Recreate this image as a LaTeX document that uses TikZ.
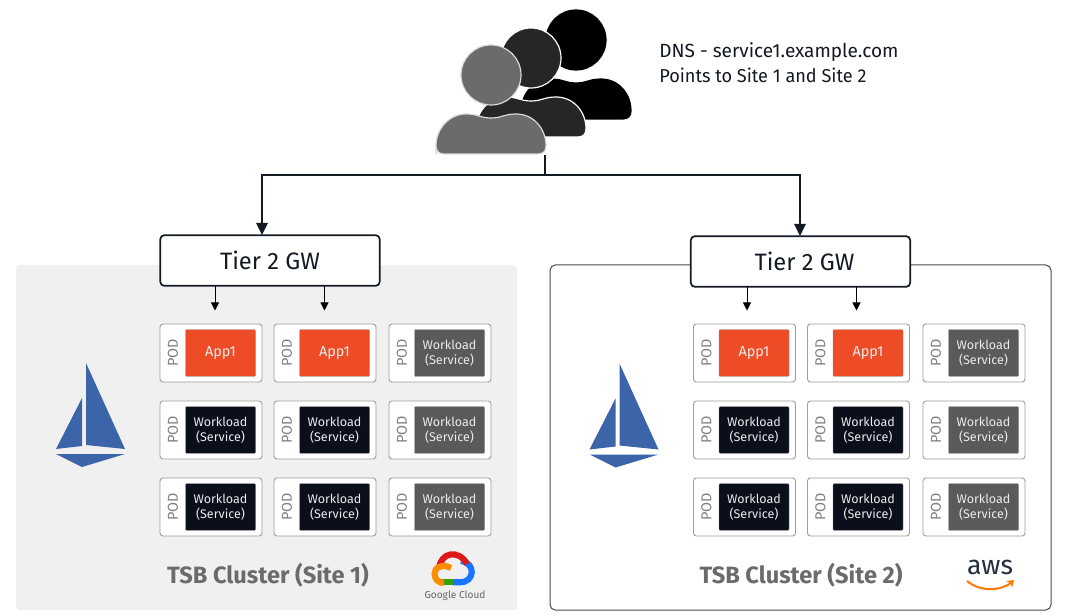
\documentclass[tikz,border=0pt]{standalone}
\usepackage{fontspec}
\setmainfont{Fira Sans}
\usetikzlibrary{arrows.meta}
\definecolor{panelgray}{HTML}{F0F0F0}
\definecolor{appred}{HTML}{EE4C27}
\definecolor{wldark}{HTML}{0B0F1C}
\definecolor{wlgray}{HTML}{5A5A5A}
\definecolor{istio}{HTML}{3B65A8}
\definecolor{ink}{HTML}{141A24}
\definecolor{awsink}{HTML}{252F3E}
\newcommand{\fs}[1]{\fontsize{#1}{#1}\selectfont}
\tikzset{
  gwbox/.style={draw=ink,line width=1.3pt,rounded corners=3pt,fill=white,minimum width=164.5pt,minimum height=38pt,inner sep=0pt,font=\fs{17.8}\color{ink}},
  podbox/.style={draw=black!38,line width=0.7pt,rounded corners=2.2pt,fill=white,minimum width=76.5pt,minimum height=43.5pt,inner sep=0pt},
  inbox/.style={draw=black!45,line width=0.3pt,rounded corners=0.8pt,minimum width=52.5pt,minimum height=35.2pt,inner sep=0pt,align=center,text=white!92!black,font=\fs{9.4}},
  podlabel/.style={rotate=90,inner sep=0pt,text=black!50,font=\fs{10.8}},
  bigarrow/.style={draw=ink,line width=1.4pt,-{Triangle[length=9pt,width=8.5pt]}},
  smallarrow/.style={draw=black,line width=0.7pt,-{Triangle[length=6pt,width=6pt]}},
  clustertitle/.style={inner sep=0pt,text=black!58,font=\fs{17.7}\bfseries},
}
\newcommand{\person}[4]{% dx dy colour outline
  \begin{scope}[shift={(#1,#2)}]
    \fill[#3,draw=#4,line width=0.9pt] (0,40) -- (0,32)
      .. controls (0,14) and (14,0) .. (30,0)
      .. controls (42,0) and (44,4) .. (55,4)
      .. controls (66,4) and (68,0) .. (80,0)
      .. controls (97,0) and (110,14) .. (110,32)
      .. controls (110,37) and (107,40) .. (102,40)
      -- (8,40) .. controls (3,40) and (0,37) .. (0,32) -- cycle;
    \fill[#3,draw=#4,line width=0.9pt] (55,-39) circle (30);
  \end{scope}}
\newcommand{\boat}[2]{%
  \begin{scope}[shift={(#1,#2)}]
    \fill[istio] (86,363) -- (125,449) -- (86,445) -- cycle;
    \fill[istio] (82,398) -- (82,446) -- (56,449) -- cycle;
    \fill[istio] (56,454) -- (125,454) -- (82,467) -- cycle;
  \end{scope}}
\begin{document}
\begin{tikzpicture}[x=0.75pt,y=-0.75pt]
\useasboundingbox (0,0) rectangle (1080,616);
\fill[white] (0,0) rectangle (1080,616);
% panels
\fill[panelgray,rounded corners=2.5pt] (16,265) rectangle (517,610);
\draw[draw=black!70,line width=0.75pt,rounded corners=4pt] (550,265) rectangle (1051,610);
% users
\person{521}{79}{black}{black}
\person{476}{97}{black!85}{white}
\person{436}{114}{black!58}{white!85!black}
\coordinate (users) at (545,155);
\coordinate (bus) at (545,175);
\coordinate (busL) at (262,175);
\coordinate (busR) at (800,175);
\node[anchor=west,inner sep=0pt,text=ink,font=\fs{14.3}] (dnsa) at (659,52) {DNS - service1.example.com};
\node[anchor=west,inner sep=0pt,text=ink,font=\fs{14},xscale=0.97] (dnsb) at (659,75) {Points to Site 1 and Site 2};
% gateways
\node[gwbox] (gwL) at (270,260.5) {Tier 2 GW};
\node[gwbox] (gwR) at (800.5,261.5) {\hspace*{6pt}Tier 2 GW};
% connectors
\coordinate (tipL) at (262,235);
\coordinate (tipR) at (800,236);
\draw[draw=ink,line width=1.2pt] (users) -- (bus);
\draw[bigarrow] (bus) -- (busL) -- (tipL);
\draw[bigarrow] (bus) -- (busR) -- (tipR);
\coordinate (la1) at (215,286); \coordinate (la2) at (215,310.5);
\coordinate (lb1) at (324.5,286); \coordinate (lb2) at (324.5,310.5);
\coordinate (ra1) at (747,287); \coordinate (ra2) at (747,310.5);
\coordinate (rb1) at (856.5,287); \coordinate (rb2) at (856.5,310.5);
\draw[smallarrow] (la1) -- (la2);
\draw[smallarrow] (lb1) -- (lb2);
\draw[smallarrow] (ra1) -- (ra2);
\draw[smallarrow] (rb1) -- (rb2);
% pods
\foreach \side/\xa/\xb/\xc in {L/211/325/440,R/744.5/858.5/974}{
  \foreach \row/\y in {1/353,2/430,3/507}{
    \foreach \col/\x in {1/\xa,2/\xb,3/\xc}{
      \node[podbox] (pod\side\row\col) at (\x,\y) {};
      \node[podlabel] (lab\side\row\col) at (\x-38,\y) {POD};
      \ifnum\col=3
        \node[inbox,fill=wlgray] (in\side\row\col) at (\x+9.5,\y) {Workload\\[2pt](Service)};
      \else
        \ifnum\row=1
          \node[inbox,fill=appred,font=\fs{10.8}] (in\side\row\col) at (\x+9.5,\y) {App1};
        \else
          \node[inbox,fill=wldark] (in\side\row\col) at (\x+9.5,\y) {Workload\\[2pt](Service)};
        \fi
      \fi
    }
  }
}
% istio logos
\boat{0}{0}
\boat{533.5}{0.5}
% titles
\node[clustertitle] (tl) at (268,575) {TSB Cluster (Site 1)};
\node[clustertitle] (tr) at (801,575) {TSB Cluster (Site 2)};
% google cloud
\draw[line width=4.6pt,color=green!55!black!80!yellow] (439,582.3) -- (453,582.3);
\draw[line width=4.6pt,color=blue!60!cyan!90!white] (453,582.3) -- (460,582.3) .. controls (475,582.3) and (476,563) .. (461,561);
\draw[line width=4.6pt,color=red!85!black!90!white] (439,569) .. controls (440,552) and (459,549) .. (467,564);
\draw[line width=4.6pt,color=orange!90!yellow] (451,568) .. controls (442,563) and (434,568) .. (434.5,574) .. controls (435,580) and (439,583) .. (444,583);
\node[inner sep=0pt,text=black!60,font=\fs{7.6}] (gc) at (455,595.5) {Google Cloud};
% aws
\node[inner sep=0pt,text=awsink,font=\fs{20}] (aws) at (990,567) {aws};
\draw[line width=1.5pt,color=orange!95!red] (967,581) .. controls (980,592) and (1000,591) .. (1011,583);
\fill[orange!95!red] (1006,581) -- (1014,580) -- (1012,588) -- (1011,583.5) -- cycle;
\end{tikzpicture}
\end{document}
